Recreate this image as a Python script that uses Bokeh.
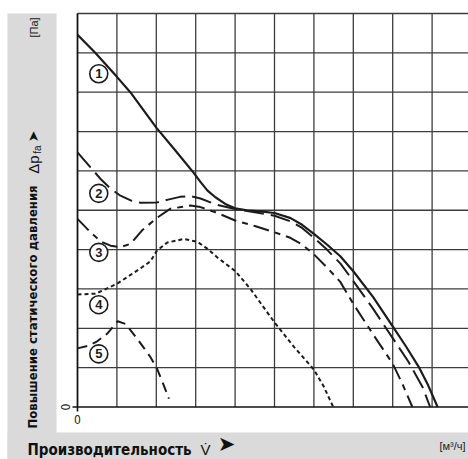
import math
from bokeh.plotting import figure
from bokeh.models import Range1d
from bokeh.core.properties import value
from bokeh.embed import file_html
from bokeh.resources import INLINE

# ---------------- data (grid units: x = flow cells, y = pressure cells) ----------------
grid_x = [0, 1, 2, 3, 4, 5, 6, 7, 8, 9]
grid_y = [1, 2, 3, 4, 5, 6, 7, 8, 9, 10]

curve1_q = [0, 0.45, 1.0, 1.34, 2.0, 2.5, 2.95, 3.12, 3.3, 3.5, 3.75, 4.0, 4.3, 4.64, 5.0,
            5.41, 5.7, 6.0, 6.33, 6.67, 7.0, 7.5, 8.0, 8.33, 8.66, 8.9, 9.14]
curve1_p = [9.46, 9.0, 8.39, 8.0, 7.1, 6.5, 5.95, 5.72, 5.5, 5.33, 5.16, 5.05, 5.0, 4.97, 4.93,
            4.8, 4.63, 4.4, 4.13, 3.83, 3.45, 2.8, 2.05, 1.55, 1.02, 0.55, 0.0]

curve2_q = [0, 0.33, 0.6, 0.84, 1.09, 1.35, 1.6, 2.02, 2.3, 2.6, 2.87, 3.12, 3.5, 4.0, 4.5,
            5.0, 5.4, 5.7, 6.0, 6.33, 6.67, 7.0, 7.5, 8.0, 8.4, 8.76, 8.95]
curve2_p = [6.47, 6.09, 5.78, 5.55, 5.37, 5.25, 5.19, 5.2, 5.27, 5.34, 5.36, 5.3, 5.15, 5.03, 4.95,
            4.86, 4.72, 4.55, 4.3, 4.0, 3.65, 3.2, 2.5, 1.75, 1.15, 0.5, 0.0]

curve3_q = [0, 0.33, 0.6, 0.84, 1.09, 1.35, 1.64, 2.02, 2.36, 2.87, 3.12, 3.5, 4.0, 4.5, 5.0,
            5.4, 5.7, 6.0, 6.33, 6.67, 7.0, 7.5, 8.0, 8.25, 8.5]
curve3_p = [4.78, 4.44, 4.2, 4.1, 4.06, 4.15, 4.49, 4.81, 5.04, 5.12, 5.08, 4.95, 4.74, 4.6, 4.44,
            4.3, 4.13, 3.88, 3.55, 3.18, 2.62, 1.85, 1.1, 0.58, 0.0]

curve4_q = [0, 0.46, 1.0, 1.52, 1.85, 2.02, 2.28, 2.7, 3.04, 3.3, 3.55, 4.01, 4.39, 5.0, 5.5,
            6.0, 6.25, 6.49]
curve4_p = [2.86, 2.88, 3.13, 3.47, 3.7, 3.98, 4.18, 4.27, 4.2, 4.02, 3.8, 3.45, 3.0, 2.15, 1.52,
            0.95, 0.52, 0.0]

curve5_q = [0, 0.29, 0.5, 0.75, 1.02, 1.22, 1.52, 1.85, 2.02, 2.19, 2.32]
curve5_p = [1.49, 1.56, 1.67, 1.86, 2.18, 2.11, 1.73, 1.27, 0.97, 0.55, 0.21]

curve_names = ["1", "2", "3", "4", "5"]
label_q = [0.54, 0.54, 0.54, 0.54, 0.54]
label_p = [8.47, 5.43, 3.93, 2.6, 1.35]

y_title = "Повышение статического давления"
x_title = "Производительность"

# ---------------- layout helpers ----------------
W, H = 468, 459
OX, OY = 0, 0           # where the figure sits on the page
X0, Y0 = 77.0, 406.5    # page pixel of the origin
CX, CY = 39.4, 39.35    # pixels per grid cell


def U(px):
    return (px - X0) / CX


def V(py):
    return (Y0 - py) / CY


p = figure(width=W, height=H,
           x_range=Range1d(U(OX), U(OX + W)), y_range=Range1d(V(OY + H), V(OY)),
           output_backend="svg", toolbar_location=None,
           x_axis_location=None, y_axis_location=None, min_border=0)
p.grid.visible = False
p.outline_line_color = None
p.background_fill_color = "white"
p.border_fill_color = "white"

GRAY = "#dadada"
INK = "#1c1c1c"
GRIDC = "#3c3c3c"

# gray title bands
p.quad(left=[U(7)], right=[U(56)], top=[V(13)], bottom=[V(459)], fill_color=GRAY, line_color=None)
p.quad(left=[U(7)], right=[U(480)], top=[V(432)], bottom=[V(459)], fill_color=GRAY, line_color=None)

# grid
p.segment(x0=grid_x, y0=[0] * len(grid_x), x1=grid_x, y1=[grid_y[-1]] * len(grid_x),
          line_color=GRIDC, line_width=1.3)
p.segment(x0=[0] * len(grid_y), y0=grid_y, x1=[U(480)] * len(grid_y), y1=grid_y,
          line_color=GRIDC, line_width=1.3)
# axes
p.segment(x0=[0], y0=[V(411)], x1=[0], y1=[grid_y[-1]], line_color="#111", line_width=1.6)
p.segment(x0=[U(72)], y0=[0], x1=[U(480)], y1=[0], line_color="#111", line_width=1.6)

# curves
p.line(curve1_q, curve1_p, line_color=INK, line_width=2.2)
p.line(curve2_q, curve2_p, line_color=INK, line_width=2.0, line_dash="20 7")
p.line(curve3_q, curve3_p, line_color=INK, line_width=2.0, line_dash="16 6 6 6")
p.line(curve4_q, curve4_p, line_color=INK, line_width=2.0, line_dash="4 3")
p.line(curve5_q, curve5_p, line_color=INK, line_width=2.0, line_dash="10 6")

NARROW = value("DejaVu Sans Condensed")
PLAIN = value("Liberation Sans")

# curve number labels
p.scatter(label_q, label_p, marker="circle", size=18, fill_color="white",
          line_color=INK, line_width=1.6)
p.text(label_q, label_p, text=curve_names, text_align="center", text_baseline="middle",
       text_font=PLAIN, text_font_style="bold", text_font_size="13px", text_color=INK)

# zero tick labels
p.text([U(65)], [0], text=["0"], angle=math.pi / 2, text_align="center", text_baseline="middle",
       text_font=NARROW, text_font_size="12px", text_color="#222")
p.text([0], [V(419)], text=["0"], text_align="center", text_baseline="middle",
       text_font=NARROW, text_font_size="12px", text_color="#222")

# y title (rotated)
p.text([U(32)], [V(428)], text=[y_title], angle=math.pi / 2, text_align="left",
       text_baseline="middle", text_font=NARROW, text_font_style="bold",
       text_font_size="13px", text_color="#111")
p.text([U(33)], [V(164)], text=["Δp"], angle=math.pi / 2, text_align="center",
       text_baseline="middle", text_font=PLAIN, text_font_size="15px", text_color="#111")
p.text([U(37)], [V(149)], text=["fa"], angle=math.pi / 2, text_align="center",
       text_baseline="middle", text_font=PLAIN, text_font_size="10px", text_color="#111")
p.text([U(32)], [V(136)], text=["➤"], angle=math.pi / 2, text_align="center",
       text_baseline="middle", text_font=value("DejaVu Sans"), text_font_size="14px",
       text_color="#111")
p.text([U(33)], [V(27)], text=["[Па]"], angle=math.pi / 2, text_align="center",
       text_baseline="middle", text_font=PLAIN, text_font_size="11px", text_color="#222")

# x title
p.text([U(27)], [V(449)], text=[x_title], text_align="left", text_baseline="alphabetic",
       text_font=NARROW, text_font_style="bold", text_font_size="15px", text_color="#111")
p.text([U(205)], [V(449)], text=["V̇"], text_align="center", text_baseline="alphabetic",
       text_font=PLAIN, text_font_size="15px", text_color="#111")
p.text([U(226)], [V(443)], text=["➤"], text_align="center", text_baseline="middle",
       text_font=value("DejaVu Sans"), text_font_size="21px", text_color="#111")
p.text([U(465)], [V(445)], text=["[м³/ч]"], text_align="right", text_baseline="middle",
       text_font=PLAIN, text_font_size="11px", text_color="#222")

open("out.html", "w").write(file_html(p, INLINE))
